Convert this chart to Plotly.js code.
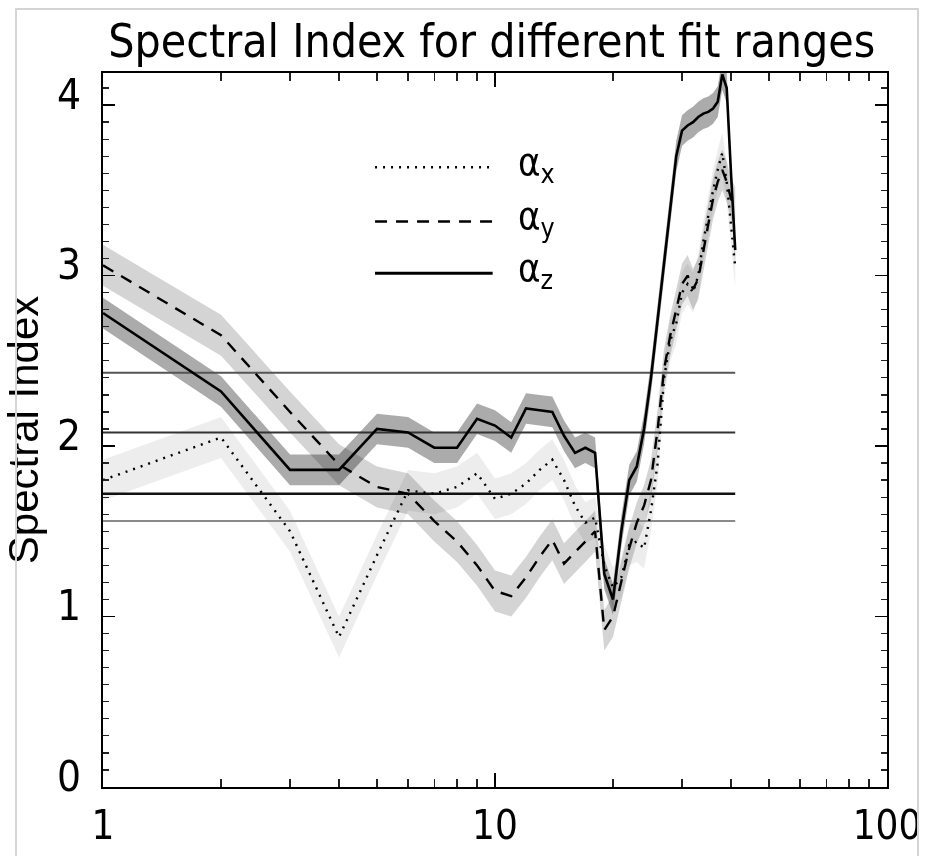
<!DOCTYPE html>
<html>
<head>
<meta charset="utf-8">
<script src="https://cdn.plot.ly/plotly-3.0.1.min.js"></script>
<style>
  html, body { margin: 0; padding: 0; background: #fff; }
  #chart { position: absolute; left: 0; top: 0; width: 928px; height: 856px; filter: blur(0.5px); }
  #frame { position: absolute; left: 15px; top: 8px; width: 900px; height: 860px;
           border-left: 2px solid #d4d4d4; border-right: 2px solid #d4d4d4; border-top: 2px solid #d4d4d4;
           pointer-events: none; }
</style>
</head>
<body>
<div id="chart"></div>
<div id="frame"></div>
<script>
// Fit range (upper end of the fit window)
const fitRange = [1, 2, 3, 4, 5, 6, 7, 8, 9, 10,
                  11, 12, 13, 14, 15, 16, 17, 18, 19, 20,
                  21, 22, 23, 24, 25, 26, 27, 28, 29, 30,
                  31, 32, 33, 34, 35, 36, 37, 38, 39, 40, 41];

// Spectral index of each velocity component
const alphaX = [1.80, 2.05, 1.50, 0.88, 1.36, 1.74, 1.72, 1.76, 1.84, 1.69,
                1.72, 1.78, 1.86, 1.92, 1.80, 1.65, 1.55, 1.58, 1.30, 1.17,
                1.23, 1.42, 1.44, 1.40, 1.62, 1.90, 2.40, 2.62, 2.72, 2.90,
                2.95, 2.90, 3.00, 3.20, 3.35, 3.50, 3.62, 3.72, 3.55, 3.30, 3.05];

const alphaY = [3.06, 2.65, 2.20, 1.89, 1.76, 1.72, 1.56, 1.44, 1.30, 1.15,
                1.12, 1.23, 1.35, 1.45, 1.31, 1.38, 1.44, 1.50, 0.92, 1.00,
                1.20, 1.40, 1.55, 1.65, 1.80, 2.10, 2.45, 2.65, 2.80, 2.95,
                3.00, 2.92, 2.98, 3.15, 3.30, 3.45, 3.55, 3.62, 3.55, 3.45, 3.40];

const alphaZ = [2.78, 2.32, 1.86, 1.86, 2.10, 2.08, 1.99, 1.99, 2.16, 2.12,
                2.05, 2.22, 2.21, 2.20, 2.06, 1.96, 1.99, 1.96, 1.25, 1.10,
                1.50, 1.80, 1.88, 2.10, 2.40, 2.75, 3.10, 3.40, 3.70, 3.85,
                3.88, 3.90, 3.93, 3.95, 3.96, 3.98, 4.02, 4.18, 4.10, 3.60, 3.15];

// Uncertainty of each index (half-width of the shaded band)
const errX = 0.12;
const errY = 0.12;
const errZ = 0.09;

// Reference spectral slopes drawn as horizontal lines
const refLevels = [2.43, 2.08, 1.72, 1.56];
const refColors = ['#555555', '#333333', '#111111', '#8a8a8a'];
const refWidths = [2, 2, 2.6, 2];

// Axis ticks
const xTickVals = [1, 10, 100];
const xTickText = ['1', '10', '100'];
const yTickVals = [0, 1, 2, 3, 4];
const yTickText = ['0', '1', '2', '3', '4'];

// Legend entries
const legendLabels = ['α<sub>x</sub>', 'α<sub>y</sub>', 'α<sub>z</sub>'];
const legendDash = ['2px,6px', '12px,9px', 'solid'];

const FONT = '"Liberation Sans Narrow", "DejaVu Sans Condensed", "Liberation Sans", sans-serif';

function band(values, err, color) {
  const lower = values.map(v => v - err);
  const upper = values.map(v => v + err);
  return [
    { x: fitRange, y: lower, mode: 'lines', line: { width: 0, color: color },
      hoverinfo: 'skip', showlegend: false },
    { x: fitRange, y: upper, mode: 'lines', line: { width: 0, color: color },
      fill: 'tonexty', fillcolor: color, hoverinfo: 'skip', showlegend: false }
  ];
}

const traces = [];
traces.push(...band(alphaX, errX, 'rgba(0,0,0,0.07)'));
traces.push(...band(alphaY, errY, 'rgba(0,0,0,0.17)'));
traces.push(...band(alphaZ, errZ, 'rgba(0,0,0,0.33)'));

refLevels.forEach((lv, i) => {
  traces.push({
    x: [fitRange[0], fitRange[fitRange.length - 1]], y: [lv, lv],
    mode: 'lines', line: { color: refColors[i], width: refWidths[i] },
    hoverinfo: 'skip', showlegend: false
  });
});

traces.push({ x: fitRange, y: alphaX, mode: 'lines', name: 'α_x',
  line: { color: '#000', width: 2.4, dash: legendDash[0] }, showlegend: false });
traces.push({ x: fitRange, y: alphaY, mode: 'lines', name: 'α_y',
  line: { color: '#000', width: 2.4, dash: legendDash[1] }, showlegend: false });
traces.push({ x: fitRange, y: alphaZ, mode: 'lines', name: 'α_z',
  line: { color: '#000', width: 2.6 }, showlegend: false });

// Legend keys drawn inside the plot area
const legendY = [0.868, 0.792, 0.7195];
const shapes = legendY.map((yy, i) => ({
  type: 'line', xref: 'paper', yref: 'paper',
  x0: 0.347, x1: 0.497, y0: yy, y1: yy,
  line: { color: '#000', width: i === 2 ? 3 : 2.6, dash: legendDash[i] }
}));
const annotations = legendY.map((yy, i) => ({
  xref: 'paper', yref: 'paper', x: 0.527, y: yy + 0.004,
  xanchor: 'left', yanchor: 'middle', showarrow: false,
  text: legendLabels[i], font: { family: FONT, size: 38, color: '#000' }
}));

const layout = {
  width: 928, height: 856,
  margin: { l: 103, r: 41, t: 73, b: 69 },
  paper_bgcolor: '#fff', plot_bgcolor: '#fff',
  showlegend: false,
  title: {
    text: 'Spectral Index for different fit ranges',
    font: { family: FONT, size: 46, color: '#000' },
    x: 0.53, xref: 'container', xanchor: 'center',
    y: 0.952, yref: 'container', yanchor: 'middle'
  },
  xaxis: {
    type: 'log', range: [0, 2],
    tickvals: xTickVals, ticktext: xTickText,
    ticks: 'inside', ticklen: 14, tickwidth: 1.5, tickcolor: '#000',
    minor: { ticks: 'inside', ticklen: 8, tickwidth: 1.3, tickcolor: '#222', dtick: 'D1', showgrid: false },
    showline: true, linecolor: '#000', linewidth: 2, mirror: 'ticks',
    showgrid: false, zeroline: false,
    ticklabelstandoff: 2,
    tickfont: { family: FONT, size: 40, color: '#000' }
  },
  yaxis: {
    range: [0, 4.188],
    tickvals: yTickVals, ticktext: yTickText,
    ticks: 'inside', ticklen: 12, tickwidth: 1.5, tickcolor: '#000',
    minor: { ticks: 'inside', ticklen: 6, tickwidth: 1.3, tickcolor: '#222', dtick: 0.1, showgrid: false },
    showline: true, linecolor: '#000', linewidth: 1.6, mirror: 'ticks',
    showgrid: false, zeroline: false,
    ticklabelstandoff: 12, ticklabelshift: -11,
    tickfont: { family: FONT, size: 42, color: '#000' },
    title: { text: 'Spectral Index', standoff: 14,
             font: { family: '"Liberation Sans", sans-serif', size: 42, color: '#000' } }
  },
  shapes: shapes,
  annotations: annotations
};

Plotly.newPlot('chart', traces, layout, { staticPlot: true, displayModeBar: false });
</script>
</body>
</html>
